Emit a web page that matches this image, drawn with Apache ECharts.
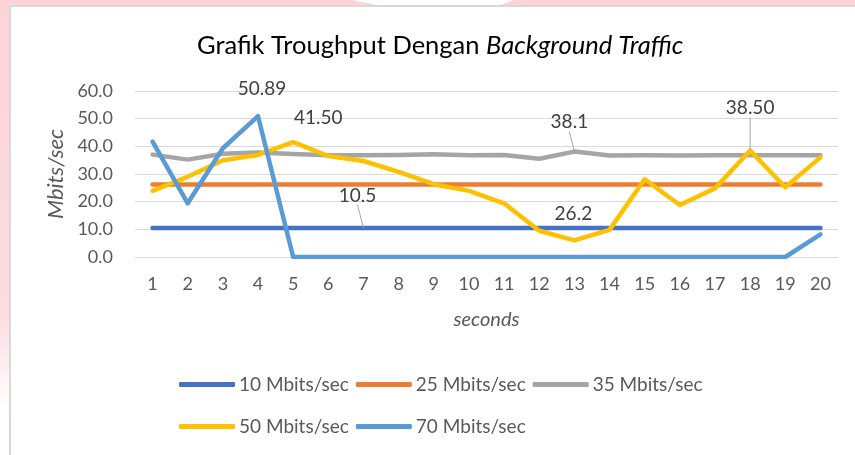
<!DOCTYPE html>
<html>
<head>
<meta charset="utf-8">
<script src="https://cdn.jsdelivr.net/npm/echarts@6/dist/echarts.min.js"></script>
<style>
html,body{margin:0;padding:0;background:#fff;}
#chart{width:855px;height:455px;}
</style>
</head>
<body>
<div id="chart"></div>
<script>
const categories = ['1','2','3','4','5','6','7','8','9','10','11','12','13','14','15','16','17','18','19','20'];
const yTicks = [0, 10, 20, 30, 40, 50, 60];
const seriesNames = ['10 Mbits/sec', '25 Mbits/sec', '35 Mbits/sec', '50 Mbits/sec', '70 Mbits/sec'];
const s10 = [10.5,10.5,10.5,10.5,10.5,10.5,10.5,10.5,10.5,10.5,10.5,10.5,10.5,10.5,10.5,10.5,10.5,10.5,10.5,10.5];
const s25 = [26.2,26.2,26.2,26.2,26.2,26.2,26.2,26.2,26.2,26.2,26.2,26.2,26.2,26.2,26.2,26.2,26.2,26.2,26.2,26.2];
const s35 = [37.0,35.2,37.3,37.8,37.2,36.8,36.8,36.9,37.1,36.8,36.9,35.5,38.1,36.7,36.8,36.7,36.8,36.8,36.8,36.8];
const s50 = [23.9,29.0,35.0,36.9,41.5,36.5,34.7,30.8,26.3,23.9,19.4,9.5,6.0,9.8,28.1,18.8,24.8,38.5,25.2,36.0];
const s70 = [41.7,19.4,39.3,50.89,0,0,0,0,0,0,0,0,0,0,0,0,0,0,0,8.2];
const colors = ['#4472C4', '#ED7D31', '#A5A5A5', '#FFC000', '#5B9BD5'];

// labelled points
const labelled = [
  {s: 0, i: 6, text: '10.5', pos: 'top', dx: -6, dy: -18, leader: true},
  {s: 1, i: 12, text: '26.2', pos: 'bottom', dx: -1, dy: 15, leader: false},
  {s: 2, i: 12, text: '38.1', pos: 'top', dx: -5, dy: -15, leader: true},
  {s: 3, i: 4, text: '41.50', pos: 'top', dx: 25, dy: -10, leader: false},
  {s: 3, i: 17, text: '38.50', pos: 'top', dx: 0, dy: -28, leader: true},
  {s: 4, i: 3, text: '50.89', pos: 'top', dx: 4, dy: -13, leader: false}
];

const FONT = 'Lato, "Open Sans", sans-serif';
const chart = echarts.init(document.getElementById('chart'), null, {renderer: 'canvas'});

const raw = [s10, s25, s35, s50, s70];
const series = raw.map((arr, si) => {
  const data = arr.map((v, di) => {
    const l = labelled.find(x => x.s === si && x.i === di);
    if (!l) return v;
    return {
      value: v,
      label: {show: true, position: l.pos, formatter: l.text, distance: 5},
      labelLine: {show: l.leader}
    };
  });
  return {
    name: seriesNames[si],
    type: 'line',
    data: data,
    symbol: 'circle',
    symbolSize: 0.01,
    showSymbol: true,
    z: 2 + si,
    lineStyle: {color: colors[si], width: 4.5, cap: 'round', join: 'round'},
    itemStyle: {color: colors[si]},
    emphasis: {disabled: true},
    label: {show: false, color: '#404040', fontFamily: FONT, fontSize: 19},
    labelLine: {show: false, lineStyle: {color: '#A6A6A6', width: 1}},
    labelLayout: function (p) {
      const l = labelled.find(x => x.s === si && x.i === p.dataIndex);
      if (l) return {dx: l.dx, dy: l.dy};
      return {};
    },
    animation: false
  };
});

const legendText = {color: '#595959', fontFamily: FONT, fontSize: 19, padding: [0, 0, 0, -1]};

const option = {
  animation: false,
  backgroundColor: '#ffffff',
  title: {
    text: '{n|Grafik Troughput Dengan }{i|Background Traffic}',
    left: 192,
    top: 28,
    textStyle: {
      fontWeight: 'normal',
      rich: {
        n: {fontFamily: FONT, fontSize: 25.5, color: '#000000', fontWeight: 'normal'},
        i: {fontFamily: FONT, fontSize: 25.5, color: '#000000', fontStyle: 'italic', fontWeight: 'normal'}
      }
    }
  },
  legend: [
    {
      data: seriesNames.slice(0, 3),
      left: 179, top: 375, padding: 0,
      itemWidth: 56, itemHeight: 5, itemGap: 7,
      icon: 'roundRect',
      textStyle: legendText
    },
    {
      data: seriesNames.slice(3),
      left: 179, top: 417, padding: 0,
      itemWidth: 56, itemHeight: 5, itemGap: 7,
      icon: 'roundRect',
      textStyle: legendText
    }
  ],
  grid: {left: 135, right: 17, top: 91, bottom: 198, containLabel: false},
  xAxis: {
    type: 'category',
    data: categories,
    boundaryGap: true,
    name: 'seconds',
    nameLocation: 'middle',
    nameGap: 53,
    nameTextStyle: {color: '#595959', fontFamily: FONT, fontSize: 20, fontStyle: 'italic'},
    axisLine: {show: true, lineStyle: {color: '#D9D9D9', width: 1}},
    axisTick: {show: false},
    axisLabel: {color: '#595959', fontFamily: FONT, fontSize: 18, margin: 18, interval: 0}
  },
  yAxis: {
    type: 'value',
    min: yTicks[0],
    max: yTicks[yTicks.length - 1],
    interval: 10,
    name: 'Mbits/sec',
    nameLocation: 'middle',
    nameGap: 64,
    nameTextStyle: {color: '#595959', fontFamily: FONT, fontSize: 22, fontStyle: 'italic'},
    axisLine: {show: false},
    axisTick: {show: false},
    splitLine: {lineStyle: {color: '#D9D9D9', width: 1}},
    axisLabel: {color: '#595959', fontFamily: FONT, fontSize: 18, margin: 22, formatter: v => v.toFixed(1)}
  },
  graphic: [
    {type: 'rect', silent: true, z: -10, shape: {x: 0, y: 0, width: 855, height: 5}, style: {fill: '#FDD3D8'}},
    {type: 'rect', silent: true, z: -10, shape: {x: 0, y: 0, width: 9, height: 455},
      style: {fill: new echarts.graphic.LinearGradient(0, 0, 0, 1, [
        {offset: 0, color: '#FDD3D8'}, {offset: 0.7, color: '#FDDDE1'}, {offset: 0.9, color: '#FFFFFF'}, {offset: 1, color: '#FFFFFF'}])}},
    {type: 'polygon', silent: true, z: -9, shape: {points: [[352, 0], [514, 0], [500, 5], [377, 5]]}, style: {fill: '#FFFFFF'}},
    {type: 'rect', silent: true, z: -8, shape: {x: 9, y: 5, width: 846, height: 2}, style: {fill: '#D9D9D9'}},
    {type: 'rect', silent: true, z: -8, shape: {x: 9, y: 5, width: 2, height: 450}, style: {fill: '#D9D9D9'}}
  ],
  series: series
};
chart.setOption(option);
</script>
</body>
</html>
